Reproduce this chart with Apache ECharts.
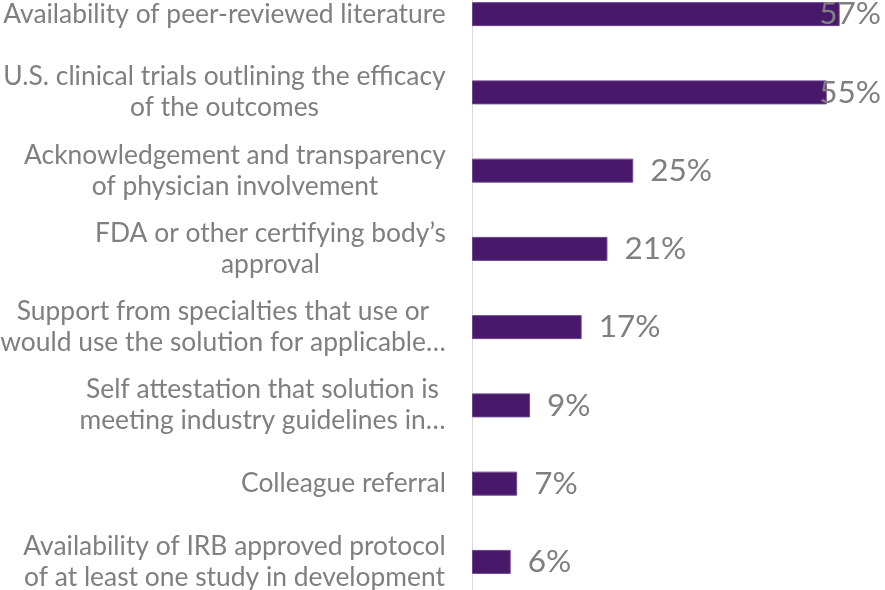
<!DOCTYPE html>
<html>
<head>
<meta charset="utf-8">
<script src="https://cdn.jsdelivr.net/npm/echarts@6/dist/echarts.min.js"></script>
<style>
  html, body { margin: 0; padding: 0; background: #fff; }
  #chart { width: 885px; height: 590px; }
</style>
</head>
<body>
<div id="chart"></div>
<script>
// categories, top to bottom
const categories = [
  "Availability of peer-reviewed literature",
  "U.S. clinical trials outlining the efficacy\nof the outcomes",
  "Acknowledgement and transparency\nof physician involvement",
  "FDA or other certifying body’s\napproval",
  "Support from specialties that use or\nwould use the solution for applicable…",
  "Self attestation that solution is\nmeeting industry guidelines in…",
  "Colleague referral",
  "Availability of IRB approved protocol\nof at least one study in development"
];
// share of respondents (%)
const values = [57, 55, 25, 21, 17, 9, 7, 6];

const FONT = "Lato";
const CAT_SIZE = 26.4;
const VAL_SIZE = 31.5;
const GRAY = "#7f7f7f";

// measure longest line so the lines of each label can be centred in their block
const ctx = document.createElement("canvas").getContext("2d");
ctx.font = CAT_SIZE + "px " + FONT;
const rich = {};
categories.forEach(function (c, i) {
  const w = Math.max.apply(null, c.split("\n").map(function (l) { return ctx.measureText(l).width; }));
  rich["c" + i] = {
    width: Math.ceil(w),
    align: "center",
    fontFamily: FONT,
    fontSize: CAT_SIZE,
    color: GRAY,
    lineHeight: 31
  };
});

const chart = echarts.init(document.getElementById("chart"));
const option = {
  animation: false,
  grid: { left: 472, right: 26, top: -25, bottom: -11, outerBoundsMode: "none" },
  xAxis: {
    type: "value",
    min: 0,
    max: 60,
    show: false
  },
  yAxis: {
    type: "category",
    inverse: true,
    data: categories,
    axisLine: { show: true, lineStyle: { color: "#d9d9d9", width: 1 } },
    axisTick: { show: false },
    axisLabel: {
      margin: 26,
      align: "right",
      rich: rich,
      formatter: function (value, index) {
        return value.split("\n").map(function (l) { return "{c" + index + "|" + l + "}"; }).join("\n");
      }
    }
  },
  series: [
    {
      type: "bar",
      data: values,
      barWidth: 24,
      itemStyle: { color: "#48186A", borderColor: "#6E4690", borderWidth: 1 },
      label: {
        show: true,
        position: "right",
        distance: 17,
        formatter: "{c}%",
        fontFamily: FONT,
        fontSize: VAL_SIZE,
        color: GRAY
      }
    }
  ],
  // keep value labels inside the canvas, like the original
  labelLayout: function (params) {
    const r = params.labelRect;
    if (r.x + r.width > 881) {
      return { x: 881 - r.width, y: r.y, align: "left", verticalAlign: "top" };
    }
    return {};
  }
};
chart.setOption(option);
</script>
</body>
</html>
